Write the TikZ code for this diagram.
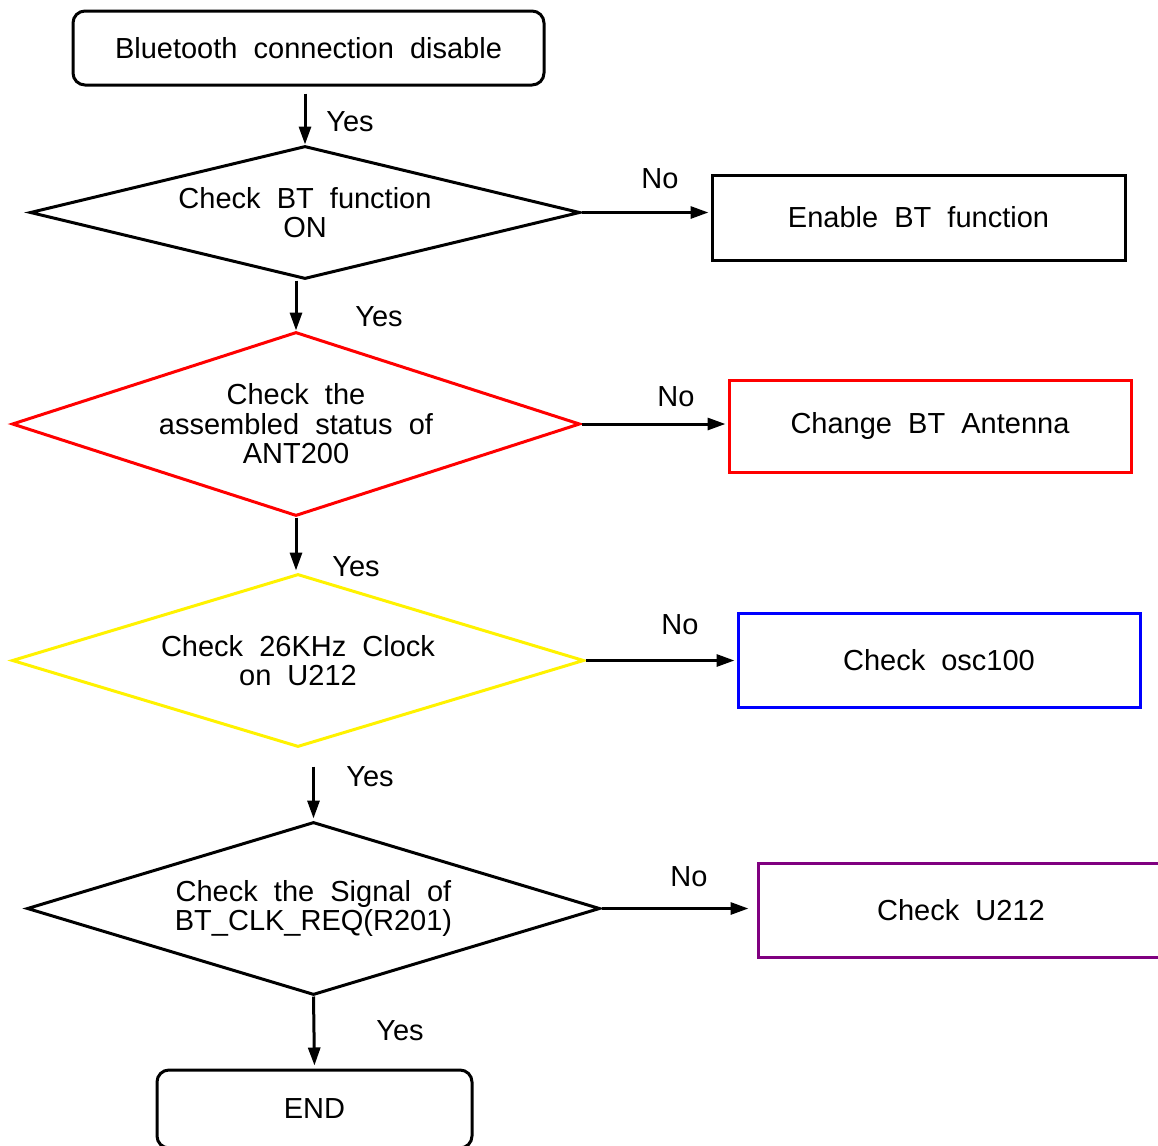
\documentclass[tikz,border=0pt]{standalone}
\usepackage{fontspec}
\setmainfont{Liberation Sans}[WordSpace=2]
\usetikzlibrary{shapes.geometric,arrows.meta}
\definecolor{btpurple}{RGB}{128,0,128}
\tikzset{
  every node/.style={font=\fontsize{14.5}{14.75}\selectfont},
  termbox/.style={draw,rectangle,rounded corners=6pt,line width=1.5pt},
  decision/.style={diamond,draw,line width=1.5pt,inner sep=0pt,align=center},
  actbox/.style={draw,rectangle,line width=1.5pt},
  arr/.style={line width=1.5pt,-{Triangle[length=9pt,width=6pt]}},
}
\begin{document}
\begin{tikzpicture}[x=0.5pt,y=-0.5pt]
\useasboundingbox (0,0) rectangle (1158,1146);
%%
\node (start) at (308.5,48) [termbox,minimum width=235.5pt,minimum height=37pt] {Bluetooth connection disable};
  \node (d1) at (305,212.5) [decision,aspect=4.1,minimum width=275pt,minimum height=66.5pt] {Check BT function\\ON};
  \node (d2) at (296,424) [decision,draw=red,aspect=3.1,minimum width=284pt,minimum height=92pt] {Check the\\assembled status of\\ANT200};
  \node (d3) at (298,660.5) [decision,draw=yellow,aspect=3.3,minimum width=286pt,minimum height=86.5pt] {Check 26KHz Clock\\on U212};
  \node (d4) at (313.5,908.5) [decision,aspect=3.3,minimum width=286.5pt,minimum height=86.5pt] {Check the Signal of\\BT\_CLK\_REQ(R201)};
  \node (end) at (314.5,1109) [termbox,minimum width=157.5pt,minimum height=39pt] {END};
  \node (enable) at (918.5,217.5) [actbox,minimum width=206.5pt,minimum height=42.5pt] {Enable BT function};
  \node (antenna) at (930,426) [actbox,draw=red,minimum width=201pt,minimum height=46pt] {Change BT Antenna};
  \node (osc) at (939,660) [actbox,draw=blue,minimum width=201pt,minimum height=47pt] {Check osc100};
  \node (u212) at (961,910) [actbox,draw=btpurple,minimum width=203pt,minimum height=47pt] {Check U212};
%
  \node (yes1) at (350,122) {Yes};
  \node (yes2) at (379,317) {Yes};
  \node (yes3) at (356,567) {Yes};
  \node (yes4) at (370,777) {Yes};
  \node (yes5) at (400,1031) {Yes};
  \node (no1) at (660,179) {No};
  \node (no2) at (676,397) {No};
  \node (no3) at (680,625) {No};
  \node (no4) at (689,877) {No};
%
  \draw [arr,shorten <=3.5pt] (d1.north |- start.south) -- (d1.north);
  \draw [arr] (d2.north |- d1.south) -- (d2.north);
  \draw [arr,shorten >=1pt] (d2.south) -- (d2.south |- d3.north);
  \draw [arr,shorten <=9pt,shorten >=1pt] (d4.north |- d3.south) -- (d4.north);
  \draw [arr,shorten >=1.5pt] (d4.south) -- (end.north);
  \draw [arr,shorten >=1pt] (d1.east) -- (d1.east -| enable.west);
  \draw [arr,shorten >=1pt] (d2.east) -- (d2.east -| antenna.west);
  \draw [arr,shorten >=1pt] (d3.east) -- (d3.east -| osc.west);
  \draw [arr,shorten >=4pt] (d4.east) -- (d4.east -| u212.west);
%
\end{tikzpicture}
\end{document}
